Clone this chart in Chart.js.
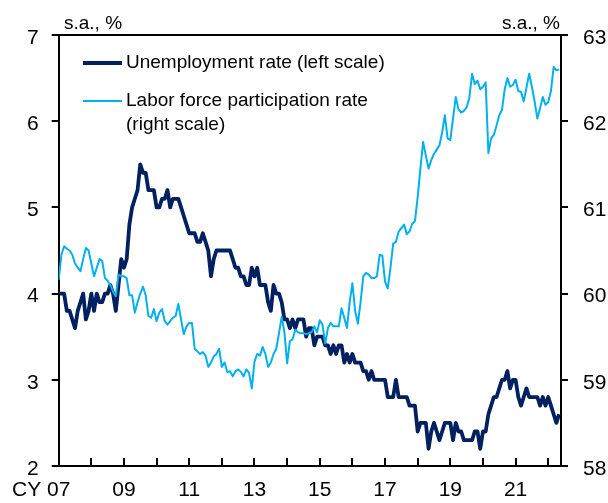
<!DOCTYPE html>
<html>
<head>
<meta charset="utf-8">
<script src="https://cdn.jsdelivr.net/npm/chart.js@4.4.1/dist/chart.umd.min.js"></script>
<style>
  html, body { margin: 0; padding: 0; background: #fff; }
  #wrap { width: 608px; height: 503px; }
</style>
</head>
<body>
<div id="wrap"><canvas id="chartCanvas" width="608" height="503"></canvas></div>
<script>
// monthly, Jan 2007 .. May 2022
const yearLabels = ["CY 07      ", "", "09", "", "11", "", "13", "", "15", "", "17", "", "19", "", "21", ""];

const unemploymentRate = [
  4.0, 4.0, 4.0, 3.8, 3.8, 3.7, 3.6, 3.8, 3.9, 4.0, 3.7, 3.8,
  4.0, 3.8, 4.0, 3.9, 3.9, 4.0, 4.0, 4.1, 4.0, 3.8, 4.1, 4.4,
  4.3, 4.4, 4.8, 5.0, 5.1, 5.2, 5.5, 5.4, 5.4, 5.2, 5.2, 5.2,
  5.0, 5.0, 5.1, 5.1, 5.2, 5.0, 5.1, 5.1, 5.1, 5.0, 4.9, 4.8,
  4.7, 4.7, 4.7, 4.6, 4.6, 4.7, 4.6, 4.5, 4.2, 4.4, 4.5, 4.5,
  4.5, 4.5, 4.5, 4.5, 4.4, 4.3, 4.3, 4.2, 4.2, 4.1, 4.1, 4.3,
  4.2, 4.3, 4.1, 4.1, 4.1, 3.9, 3.8, 4.1, 4.0, 4.0, 3.9, 3.7,
  3.7, 3.6, 3.7, 3.6, 3.7, 3.7, 3.7, 3.5, 3.6, 3.6, 3.4, 3.5,
  3.5, 3.5, 3.4, 3.4, 3.3, 3.4, 3.3, 3.4, 3.4, 3.2, 3.3, 3.2,
  3.3, 3.2, 3.2, 3.2, 3.1, 3.1, 3.0, 3.1, 3.0, 3.0, 3.0, 3.0,
  3.0, 2.8, 2.8, 2.8, 3.0, 2.8, 2.8, 2.8, 2.8, 2.7, 2.7, 2.7,
  2.4, 2.5, 2.5, 2.5, 2.2, 2.4, 2.5, 2.4, 2.3, 2.4, 2.5, 2.5,
  2.5, 2.3, 2.5, 2.4, 2.4, 2.3, 2.3, 2.3, 2.3, 2.4, 2.4, 2.2,
  2.4, 2.4, 2.6, 2.7, 2.8, 2.8, 2.9, 3.0, 3.0, 3.1, 2.9, 3.0,
  3.0, 2.8, 2.7, 2.8, 2.9, 2.8, 2.8, 2.8, 2.8, 2.7, 2.8, 2.7,
  2.8, 2.7, 2.6, 2.5, 2.6
];

const participationRate = [
  60.16, 60.45, 60.55, 60.52, 60.50, 60.45, 60.35, 60.30, 60.26, 60.40, 60.53, 60.50,
  60.35, 60.20, 60.30, 60.40, 60.38, 60.18, 60.15, 60.10, 60.02, 59.97, 60.22, 60.20,
  60.20, 60.18, 59.98, 59.98, 59.78, 59.90, 60.00, 60.08, 59.98, 59.74, 59.72, 59.82,
  59.68, 59.78, 59.82, 59.68, 59.64, 59.68, 59.72, 59.74, 59.88, 59.70, 59.53, 59.62,
  59.66, 59.66, 59.36, 59.33, 59.30, 59.32, 59.28, 59.15, 59.20, 59.27, 59.30, 59.36,
  59.15, 59.20, 59.09, 59.10, 59.04, 59.10, 59.12, 59.09, 59.04, 59.12, 59.08, 58.90,
  59.21, 59.30, 59.28, 59.38, 59.30, 59.15, 59.20, 59.30, 59.36, 59.54, 59.73, 59.55,
  59.19, 59.45, 59.47, 59.58, 59.55, 59.54, 59.54, 59.53, 59.54, 59.55, 59.62, 59.55,
  59.69, 59.64, 59.42, 59.60, 59.66, 59.62, 59.62, 59.62, 59.83, 59.72, 59.60, 59.90,
  60.12, 59.80, 59.65, 59.90, 60.20, 60.24, 60.22, 60.18, 60.18, 60.20, 60.45, 60.44,
  60.14, 60.06, 60.30, 60.58, 60.60, 60.72, 60.76, 60.80, 60.69, 60.72, 60.81, 60.84,
  61.12, 61.45, 61.76, 61.60, 61.45, 61.55, 61.62, 61.67, 61.72, 61.87, 62.07, 61.80,
  61.78, 62.03, 62.28, 62.14, 62.10, 62.12, 62.16, 62.27, 62.55, 62.43, 62.47, 62.37,
  62.40, 62.45, 61.63, 61.80, 61.84, 61.95, 62.07, 62.13, 62.37, 62.50, 62.40, 62.42,
  62.48, 62.35, 62.34, 62.23, 62.39, 62.55, 62.40, 62.23, 62.03, 62.15, 62.28, 62.19,
  62.22, 62.35, 62.63, 62.59, 62.60
];

const darkBlue = "#002060";
const lightBlue = "#00b0f0";
const fontFamily = "'Liberation Sans', Arial, sans-serif";

const toPoints = arr => arr.map((v, i) => ({ x: i, y: v }));

const framePlugin = {
  id: "frame",
  afterDraw(chart) {
    const { ctx, chartArea, scales } = chart;
    ctx.save();
    ctx.strokeStyle = "#000";
    ctx.lineWidth = 2;
    ctx.beginPath();
    ctx.moveTo(chartArea.left, chartArea.top);
    ctx.lineTo(chartArea.right, chartArea.top);
    ctx.stroke();
    // x ticks point inward (one per year)
    const xs = scales.x;
    yearLabels.forEach((_, i) => {
      const x = Math.round(xs.getPixelForValue(i * 12));
      ctx.beginPath();
      ctx.moveTo(x, chartArea.bottom);
      ctx.lineTo(x, chartArea.bottom - 8);
      ctx.stroke();
    });

    ctx.font = "19px " + fontFamily;
    ctx.fillStyle = "#000";
    ctx.textBaseline = "alphabetic";
    ctx.textAlign = "left";
    ctx.fillText("s.a., %", 64, 29);
    ctx.textAlign = "right";
    ctx.fillText("s.a., %", 560, 29);

    // legend
    ctx.lineCap = "butt";
    ctx.strokeStyle = darkBlue;
    ctx.lineWidth = 3.8;
    ctx.beginPath();
    ctx.moveTo(83, 63);
    ctx.lineTo(122, 63);
    ctx.stroke();
    ctx.strokeStyle = lightBlue;
    ctx.lineWidth = 2;
    ctx.beginPath();
    ctx.moveTo(83, 101);
    ctx.lineTo(122, 101);
    ctx.stroke();
    ctx.textAlign = "left";
    ctx.textBaseline = "middle";
    ctx.fillText("Unemployment rate (left scale)", 126, 63);
    ctx.fillText("Labor force participation rate", 126, 101);
    ctx.fillText("(right scale)", 126, 125);
    ctx.restore();
  }
};

const axisGrid = {
  drawOnChartArea: false,
  drawTicks: true,
  tickLength: 7,
  color: "#000",
  lineWidth: 2
};

new Chart(document.getElementById("chartCanvas"), {
  type: "line",
  data: {
    datasets: [
      {
        label: "Unemployment rate (left scale)",
        data: toPoints(unemploymentRate),
        yAxisID: "y",
        borderColor: darkBlue,
        borderWidth: 3.8,
        pointRadius: 0,
        tension: 0,
        borderJoinStyle: "round",
        order: 1
      },
      {
        label: "Labor force participation rate (right scale)",
        data: toPoints(participationRate),
        yAxisID: "y1",
        borderColor: lightBlue,
        borderWidth: 2,
        pointRadius: 0,
        tension: 0,
        borderJoinStyle: "round",
        order: 0
      }
    ]
  },
  options: {
    responsive: false,
    animation: false,
    layout: { padding: { top: 35, left: 0, right: 0, bottom: 0 } },
    plugins: {
      legend: { display: false },
      tooltip: { enabled: false }
    },
    scales: {
      x: {
        type: "linear",
        min: 0,
        max: 184.7,
        afterBuildTicks: axis => {
          axis.ticks = yearLabels.map((_, i) => ({ value: i * 12 }));
        },
        afterFit: scale => { scale.height = 37; },
        grid: { drawOnChartArea: false, drawTicks: false },
        border: { display: true, color: "#000", width: 2 },
        ticks: {
          autoSkip: false,
          maxRotation: 0,
          padding: 12,
          color: "#000",
          font: { family: fontFamily, size: 21 },
          callback: (value, index) => yearLabels[index]
        }
      },
      y: {
        position: "left",
        min: 2,
        max: 7,
        afterFit: scale => { scale.width = 57; },
        grid: axisGrid,
        border: { display: true, color: "#000", width: 2 },
        ticks: {
          stepSize: 1,
          padding: 13,
          labelOffset: 3,
          color: "#000",
          font: { family: fontFamily, size: 21 }
        }
      },
      y1: {
        position: "right",
        min: 58,
        max: 63,
        afterFit: scale => { scale.width = 47; },
        grid: axisGrid,
        border: { display: true, color: "#000", width: 2 },
        ticks: {
          stepSize: 1,
          padding: 15,
          labelOffset: 3,
          color: "#000",
          font: { family: fontFamily, size: 21 }
        }
      }
    }
  },
  plugins: [framePlugin]
});
</script>
</body>
</html>
